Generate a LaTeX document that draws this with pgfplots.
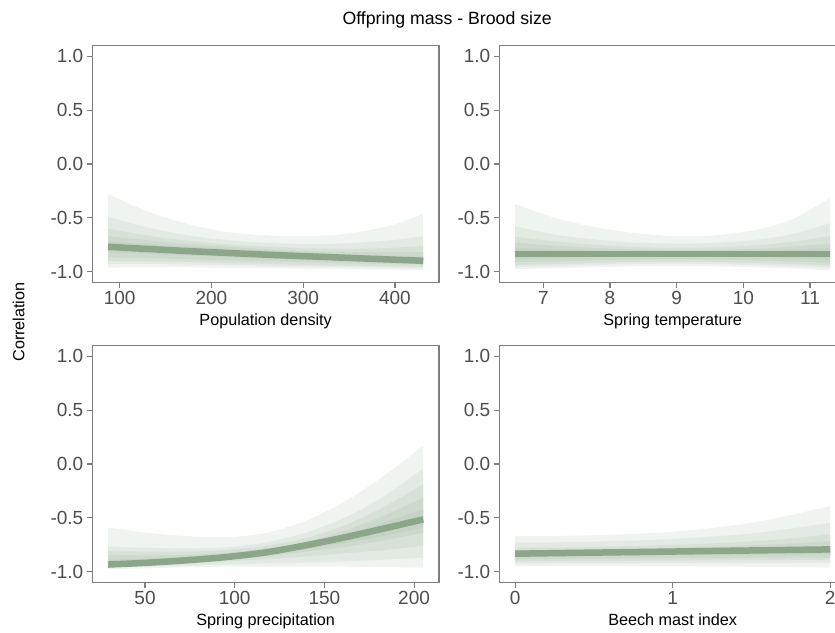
\documentclass[border=0pt]{standalone}
\usepackage{fontspec}
\setmainfont{Liberation Sans}
\usepackage{pgfplots}
\usepackage{pgfplotstable}
\pgfplotsset{compat=1.18}
\usepgfplotslibrary{fillbetween}

\definecolor{lineg}{RGB}{139,166,137}
\definecolor{tickg}{RGB}{77,77,77}
\definecolor{frameg}{RGB}{127,127,127}
\colorlet{b1}{lineg!13!white}
\colorlet{b2}{lineg!24!white}
\colorlet{b3}{lineg!34!white}
\colorlet{b4}{lineg!43!white}
\colorlet{b5}{lineg!50!white}

% columns: x, mean, upper bounds (outer -> inner), lower bounds (inner -> outer)
\pgfplotstableread{
x     m      u1     u2     u3     u4     u5     l5     l4     l3     l2     l1
87.4  -0.770 -0.28  -0.49  -0.60  -0.67  -0.72  -0.82  -0.87  -0.90  -0.93  -0.965
130   -0.790 -0.44  -0.59  -0.665 -0.71  -0.745 -0.835 -0.875 -0.905 -0.93  -0.96
175   -0.810 -0.56  -0.665 -0.715 -0.745 -0.77  -0.85  -0.885 -0.91  -0.935 -0.96
220   -0.828 -0.635 -0.71  -0.75  -0.77  -0.79  -0.865 -0.895 -0.92  -0.94  -0.965
265   -0.845 -0.665 -0.735 -0.77  -0.795 -0.81  -0.88  -0.905 -0.93  -0.95  -0.97
310   -0.860 -0.67  -0.745 -0.785 -0.81  -0.83  -0.89  -0.915 -0.94  -0.955 -0.975
355   -0.875 -0.64  -0.735 -0.79  -0.82  -0.845 -0.90  -0.925 -0.945 -0.96  -0.98
400   -0.890 -0.56  -0.705 -0.78  -0.82  -0.855 -0.91  -0.93  -0.95  -0.965 -0.983
430.8 -0.900 -0.46  -0.67  -0.76  -0.82  -0.86  -0.92  -0.935 -0.955 -0.97  -0.985
}\popdens

\pgfplotstableread{
x      m      u1     u2     u3     u4     u5     l5     l4     l3     l2     l1
6.576  -0.835 -0.37  -0.58  -0.675 -0.73  -0.78  -0.885 -0.915 -0.94  -0.96  -0.978
7.17   -0.835 -0.50  -0.655 -0.72  -0.76  -0.795 -0.875 -0.905 -0.93  -0.95  -0.97
7.76   -0.835 -0.585 -0.70  -0.75  -0.78  -0.805 -0.865 -0.895 -0.92  -0.94  -0.96
8.35   -0.835 -0.64  -0.73  -0.77  -0.795 -0.815 -0.86  -0.888 -0.91  -0.93  -0.952
8.94   -0.835 -0.67  -0.74  -0.78  -0.80  -0.818 -0.858 -0.885 -0.907 -0.926 -0.95
9.53   -0.835 -0.665 -0.735 -0.775 -0.80  -0.818 -0.86  -0.888 -0.91  -0.93  -0.952
10.12  -0.835 -0.62  -0.71  -0.76  -0.79  -0.812 -0.865 -0.895 -0.92  -0.94  -0.96
10.71  -0.835 -0.52  -0.655 -0.725 -0.77  -0.80  -0.875 -0.905 -0.93  -0.952 -0.972
11.30  -0.835 -0.32  -0.55  -0.67  -0.74  -0.78  -0.89  -0.92  -0.945 -0.965 -0.988
}\springtemp

\pgfplotstableread{
x      m      u1     u2     u3     u4     u5     l5     l4     l3     l2     l1
29.4   -0.935 -0.59  -0.77  -0.81  -0.85  -0.89  -0.945 -0.95  -0.955 -0.96  -0.978
51.4   -0.918 -0.64  -0.78  -0.815 -0.85  -0.88  -0.925 -0.93  -0.94  -0.955 -0.97
73.4   -0.895 -0.67  -0.785 -0.815 -0.845 -0.865 -0.905 -0.91  -0.925 -0.945 -0.96
95.4   -0.865 -0.68  -0.775 -0.80  -0.825 -0.845 -0.875 -0.885 -0.905 -0.935 -0.955
117.4  -0.822 -0.64  -0.73  -0.76  -0.785 -0.805 -0.84  -0.855 -0.885 -0.925 -0.955
139.4  -0.757 -0.53  -0.64  -0.69  -0.725 -0.745 -0.79  -0.815 -0.86  -0.915 -0.955
161.3  -0.682 -0.35  -0.50  -0.57  -0.62  -0.655 -0.735 -0.77  -0.83  -0.905 -0.955
183.2  -0.600 -0.11  -0.30  -0.40  -0.48  -0.545 -0.67  -0.71  -0.80  -0.89  -0.96
205.1  -0.515  0.17  -0.04  -0.19  -0.316 -0.42  -0.59  -0.64  -0.76  -0.87  -0.965
}\springprec

\pgfplotstableread{
x     m      u1     u2     u3     u4     u5     l5     l4     l3     l2     l1
0     -0.834 -0.67  -0.73  -0.778 -0.80  -0.815 -0.86  -0.886 -0.907 -0.926 -0.95
0.25  -0.829 -0.668 -0.728 -0.775 -0.797 -0.812 -0.857 -0.883 -0.905 -0.925 -0.95
0.5   -0.824 -0.662 -0.722 -0.77  -0.793 -0.808 -0.854 -0.88  -0.902 -0.924 -0.95
0.75  -0.819 -0.65  -0.712 -0.762 -0.787 -0.803 -0.851 -0.878 -0.90  -0.923 -0.951
1     -0.814 -0.63  -0.697 -0.752 -0.78  -0.797 -0.848 -0.876 -0.898 -0.922 -0.952
1.25  -0.809 -0.595 -0.675 -0.738 -0.77  -0.79  -0.846 -0.874 -0.896 -0.922 -0.954
1.5   -0.804 -0.545 -0.645 -0.72  -0.757 -0.782 -0.844 -0.872 -0.894 -0.921 -0.956
1.75  -0.799 -0.475 -0.60  -0.69  -0.74  -0.772 -0.842 -0.871 -0.892 -0.92  -0.96
2     -0.794 -0.39  -0.547 -0.655 -0.716 -0.76  -0.84  -0.87  -0.89  -0.92  -0.963
}\beech

\pgfplotsset{band/.style={draw=none, smooth, tension=0.5}}

\newcommand{\ribbons}[1]{%
  \addplot[band, name path=up1] table[y=u1]{#1};
  \addplot[band, name path=lo1] table[y=l1]{#1};
  \addplot[band, name path=up2] table[y=u2]{#1};
  \addplot[band, name path=lo2] table[y=l2]{#1};
  \addplot[band, name path=up3] table[y=u3]{#1};
  \addplot[band, name path=lo3] table[y=l3]{#1};
  \addplot[band, name path=up4] table[y=u4]{#1};
  \addplot[band, name path=lo4] table[y=l4]{#1};
  \addplot[band, name path=up5] table[y=u5]{#1};
  \addplot[band, name path=lo5] table[y=l5]{#1};
  \addplot[b1, draw=none] fill between[of=up1 and lo1];
  \addplot[b2, draw=none] fill between[of=up2 and lo2];
  \addplot[b3, draw=none] fill between[of=up3 and lo3];
  \addplot[b4, draw=none] fill between[of=up4 and lo4];
  \addplot[b5, draw=none] fill between[of=up5 and lo5];
  \addplot[lineg, line width=6.5pt, smooth, tension=0.5] table[y=m]{#1};
}

\pgfplotsset{panel/.style={
  scale only axis, width=346.7pt, height=236.6pt, anchor=south west,
  ymin=-1.1, ymax=1.1,
  ytick={-1,-0.5,0,0.5,1}, yticklabels={-1.0,-0.5,0.0,0.5,1.0},
  axis line style={frameg, line width=1.1pt},
  tick align=outside, major tick length=5.5pt,
  tick style={frameg, line width=1.1pt},
  xtick pos=left, ytick pos=left,
  ticklabel style={font=\fontsize{19}{19}\selectfont, text=tickg},
  /pgf/number format/assume math mode=true,
  x label style={at={(axis description cs:0.5,0)}, anchor=base, yshift=-43pt,
    font=\fontsize{16.2}{16.2}\selectfont},
}}

\begin{document}
\begin{tikzpicture}
\begin{axis}[panel, at={(92.3pt,349.7pt)}, xmin=70.2, xmax=448,
  xtick={100,200,300,400}, xlabel={Population density}]
\ribbons{\popdens}
\end{axis}
\begin{axis}[panel, at={(499.3pt,349.7pt)}, xmin=6.34, xmax=11.54,
  xtick={7,8,9,10,11}, xlabel={Spring temperature}]
\ribbons{\springtemp}
\end{axis}
\begin{axis}[panel, at={(92.3pt,49.7pt)}, xmin=20.6, xmax=213.9,
  xtick={50,100,150,200}, xlabel={Spring precipitation}]
\ribbons{\springprec}
\end{axis}
\begin{axis}[panel, at={(499.3pt,49.7pt)}, xmin=-0.1, xmax=2.1,
  xtick={0,1,2}, xlabel={Beech mast index}]
\ribbons{\beech}
\end{axis}
\node[anchor=base, font=\fontsize{17.7}{17.7}\selectfont] at (447.2pt,607pt) {Offpring mass - Brood size};
\node[anchor=base, rotate=90, font=\fontsize{16.2}{16.2}\selectfont] at (24.3pt,310pt) {Correlation};
\pgfresetboundingbox
\path[use as bounding box] (0,0) rectangle (835pt,632pt);
\end{tikzpicture}
\end{document}
